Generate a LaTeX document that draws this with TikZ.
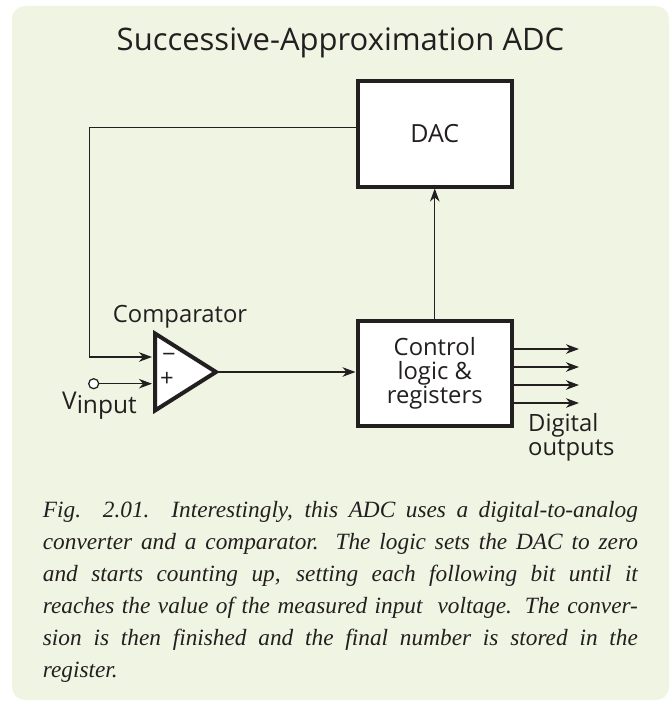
\documentclass[tikz,border=0pt]{standalone}
\usepackage{fontspec}
\setmainfont{Liberation Serif}
\newfontfamily\labelfont{Open Sans}
\usetikzlibrary{arrows.meta,shapes.geometric}
\definecolor{panelbg}{HTML}{F0F4E3}
\definecolor{ink}{HTML}{231F20}
\tikzset{
  x=1pt,y=-1pt,
  blockbox/.style={draw=ink,fill=white,line width=4pt,inner sep=0pt,outer sep=0pt,align=center,font=\labelfont\fontsize{23.8}{24}\selectfont,text=ink},
  wire/.style={draw=ink,line width=1.25pt},
  arrowwire/.style={wire,-{Stealth[length=13pt,width=9.5pt,inset=4pt]}},
  lbl/.style={font=\labelfont\fontsize{23.8}{23.5}\selectfont,text=ink,inner sep=0pt},
  titlelbl/.style={font=\labelfont\fontsize{31}{34}\selectfont,text=ink,inner sep=0pt},
  capt/.style={font=\itshape\fontsize{23.3}{32}\selectfont,text=ink,inner sep=0pt,text width=595pt,align=justify},
  comparebox/.style={isosceles triangle,isosceles triangle stretches,draw=ink,fill=white,line width=4pt,inner sep=0pt,minimum width=77pt,minimum height=61pt,outer sep=0pt},
}
\begin{document}
\begin{tikzpicture}
\useasboundingbox (0,0) rectangle (669,701);
\fill[white] (0,0) rectangle (669,701);
\fill[panelbg,rounded corners=13pt] (12,6) rectangle (669,700);
\node[titlelbl,anchor=base] (title) at (340.5,51) {Successive-Approximation ADC};
\node[blockbox,minimum width=154.5pt,minimum height=106pt,font=\labelfont\fontsize{25}{26}\selectfont] (dac) at (434.75,134) {DAC};
\node[blockbox,minimum width=154.5pt,minimum height=105pt] (ctl) at (434.75,373.5) {Control\\logic \&\\registers};
\node[comparebox,anchor=lower side] (cmp) at (155,372) {};
\node[lbl,anchor=center] (minus) at (169,358) {−};
\node[lbl,anchor=center] (plus) at (167,379) {+};
\node[lbl,anchor=base west] (cmplbl) at (112.7,322) {Comparator};
\node[lbl,anchor=base west,font=\labelfont\fontsize{24.5}{26}\selectfont] (vlbl) at (62,409) {V\raisebox{-4pt}{input}};
\node[lbl,anchor=base west,align=left] (dig) at (528,455) {Digital\\outputs};
\node[circle,draw=ink,fill=white,line width=1.25pt,minimum size=10pt,inner sep=0pt] (vin) at (93.7,383.7) {};
\coordinate (corner) at (89.3,127.7);
\coordinate (inm) at (152,357);
\coordinate (inp) at (152,383.7);
\coordinate (o1) at (579,349);
\coordinate (o2) at (579,367);
\coordinate (o3) at (579,385);
\coordinate (o4) at (579,403);
\draw[arrowwire] (dac.west |- corner) -- (corner) |- (inm);
\draw[arrowwire] (vin) -- (inp);
\draw[arrowwire,shorten >=2pt] (cmp.apex) -- (ctl.west |- cmp.apex);
\draw[arrowwire,shorten >=1.5pt] (ctl.north) -- (dac.south);
\draw[arrowwire] (ctl.east |- o1) -- (o1);
\draw[arrowwire] (ctl.east |- o2) -- (o2);
\draw[arrowwire] (ctl.east |- o3) -- (o3);
\draw[arrowwire] (ctl.east |- o4) -- (o4);
\node[capt,anchor=base west] (caption) at (42.7,517) {Fig. 2.01. Interestingly, this ADC uses a digital-to-analog\linebreak
converter and a comparator. The logic sets the DAC to zero\linebreak
and starts counting up, setting each following bit until it\linebreak
reaches the value of the measured input~ voltage. The conver-\linebreak
sion is then finished and the final number is stored in the\linebreak
register.};
\end{tikzpicture}
\end{document}
